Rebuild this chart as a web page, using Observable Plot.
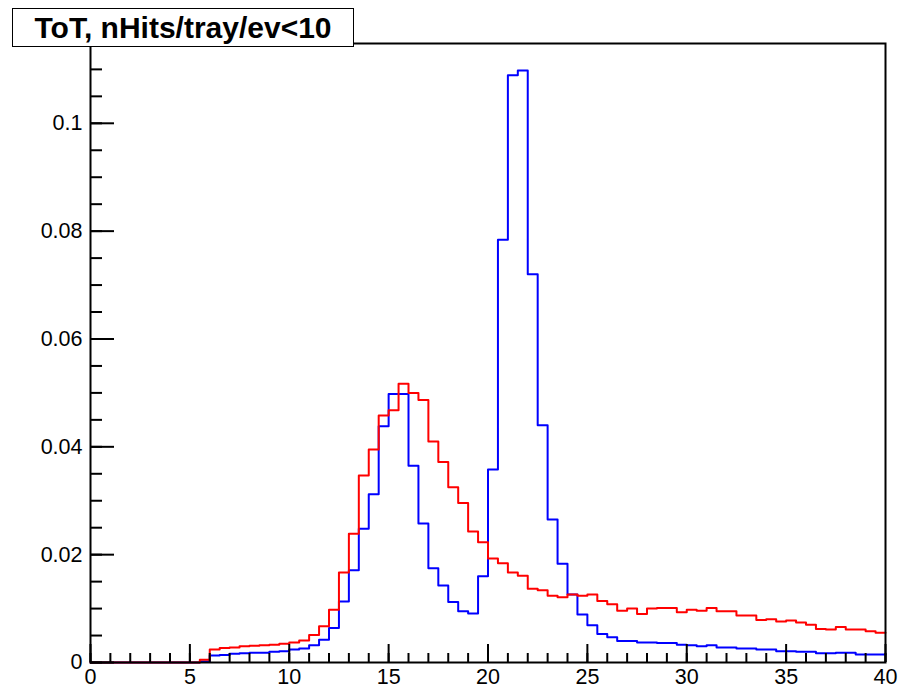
<!DOCTYPE html>
<html>
<head>
<meta charset="utf-8">
<script src="https://cdn.jsdelivr.net/npm/d3@7"></script>
<script src="https://cdn.jsdelivr.net/npm/@observablehq/plot@0.6"></script>
<style>
  html, body { margin: 0; padding: 0; background: white; }
  #wrap { position: relative; width: 900px; height: 691px; }
  #title {
    position: absolute; left: 12px; top: 8px; width: 342px; height: 39px;
    box-sizing: border-box; border: 1.5px solid black; background: white;
    display: flex; align-items: center; justify-content: center;
    font-family: "Liberation Sans", Arial, sans-serif; font-weight: bold; font-size: 30px;
    color: black; z-index: 2; white-space: nowrap;
  }
</style>
</head>
<body>
<div id="wrap"><div id="title">ToT, nHits/tray/ev&lt;10</div></div>
<script>
const titleText = "ToT, nHits/tray/ev<10";
const binWidth = 0.5;
const xMin = 0, xMax = 40;

// blue histogram (bin contents, bins of width 0.5 from 0 to 40)
const blueValues = [
  0,0,0,0,0,0,0,0,0,0,0,
  0.0002,0.0013,0.0014,0.0016,0.0017,0.0018,0.0018,0.0020,0.0021,0.0024,
  0.0026,0.0032,0.0042,0.0064,0.0113,0.0171,0.0248,0.0312,0.0438,0.0498,
  0.0498,0.0365,0.0258,0.0175,0.0143,0.0112,0.0095,0.0091,0.0160,0.0358,
  0.0784,0.1089,0.1098,0.0720,0.0440,0.0265,0.0183,0.0126,0.0089,0.0069,
  0.0053,0.0047,0.0040,0.0040,0.0037,0.0037,0.0036,0.0036,0.0033,0.0032,
  0.0030,0.0032,0.0028,0.0028,0.0026,0.0026,0.0024,0.0024,0.0021,0.0021,
  0.0020,0.0020,0.0017,0.0017,0.0018,0.0018,0.0015,0.0015,0.0015
];
// red histogram
const redValues = [
  0,0,0,0,0,0,0,0,0,0,0,
  0.0005,0.0024,0.0027,0.0028,0.0030,0.0031,0.0032,0.0033,0.0035,0.0037,
  0.0041,0.0051,0.0067,0.0098,0.0167,0.0239,0.0347,0.0395,0.0458,0.0468,
  0.0517,0.0500,0.0487,0.0410,0.0372,0.0325,0.0296,0.0243,0.0223,0.0193,
  0.0184,0.0167,0.0161,0.0137,0.0134,0.0124,0.0121,0.0126,0.0124,0.0126,
  0.0114,0.0108,0.0096,0.0100,0.0090,0.0100,0.0101,0.0101,0.0093,0.0098,
  0.0096,0.0101,0.0095,0.0095,0.0087,0.0087,0.0079,0.0080,0.0076,0.0078,
  0.0074,0.0070,0.0062,0.0061,0.0066,0.0061,0.0061,0.0058,0.0055
];

const xMajorTicks = [0,5,10,15,20,25,30,35,40];
const xTickLabels = ["0","5","10","15","20","25","30","35","40"];
const xMinorTicks = d3.range(0, 41, 1);
const yMajorTicks = [0,0.02,0.04,0.06,0.08,0.1];
const yTickLabels = ["0","0.02","0.04","0.06","0.08","0.1"];
const yMinorTicks = d3.range(0, 23).map(i => +(i * 0.005).toFixed(3));
const yMax = 0.1148;

function toSteps(values) {
  const pts = values.map((v, i) => ({x: xMin + i * binWidth, y: v}));
  pts.push({x: xMax, y: values[values.length - 1]});
  return pts;
}
const blue = toSteps(blueValues);
const red = toSteps(redValues);

const chart = Plot.plot({
  width: 900,
  height: 691,
  marginLeft: 90,
  marginRight: 15,
  marginTop: 43,
  marginBottom: 29,
  style: {fontFamily: "'Liberation Sans', Arial, sans-serif", fontSize: "21.5px", color: "black", background: "white", overflow: "visible"},
  x: {domain: [xMin, xMax]},
  y: {domain: [0, yMax]},
  marks: [
    Plot.line(blue, {x: "x", y: "y", curve: "step-after", stroke: "#0000ff", strokeWidth: 2}),
    Plot.line(red, {x: "x", y: "y", curve: "step-after", stroke: "#ff0000", strokeWidth: 2}),
    Plot.frame({stroke: "black", strokeWidth: 2}),
    Plot.axisY(yMinorTicks, {tickSize: 12, dx: 12, tickFormat: () => "", label: null, strokeWidth: 2}),
    Plot.axisY(yMajorTicks, {tickSize: 24, dx: 24, tickFormat: () => "", label: null, strokeWidth: 2}),
    Plot.axisY(yMajorTicks, {tickSize: 0, tickPadding: 8, tickFormat: (d, i) => yTickLabels[i], label: null}),
    Plot.axisX(xMinorTicks, {tickSize: 9, dy: -9, tickFormat: () => "", label: null, strokeWidth: 2}),
    Plot.axisX(xMajorTicks, {tickSize: 18, dy: -18, tickFormat: () => "", label: null, strokeWidth: 2}),
    Plot.axisX(xMajorTicks, {tickSize: 0, tickPadding: 6, tickFormat: (d, i) => xTickLabels[i], label: null})
  ]
});
document.getElementById("wrap").appendChild(chart);
</script>
</body>
</html>
